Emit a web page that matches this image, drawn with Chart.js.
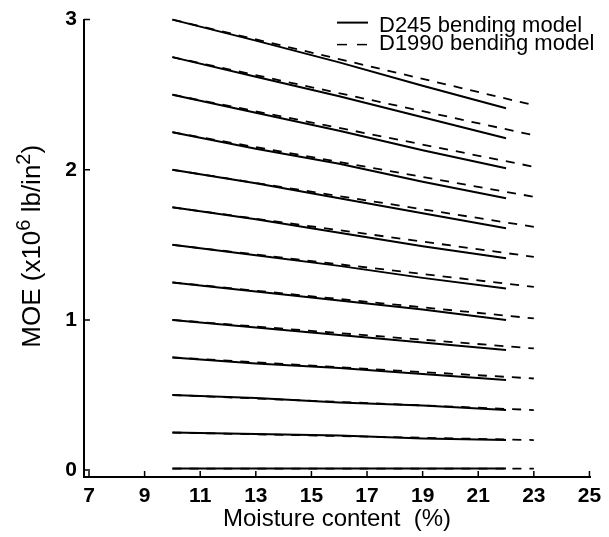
<!DOCTYPE html>
<html>
<head>
<meta charset="utf-8">
<script src="https://cdn.jsdelivr.net/npm/chart.js@4/dist/chart.umd.min.js"></script>
<style>
    html, body { margin: 0; padding: 0; background: #ffffff; }
    #wrap { width: 609px; height: 537px; }
</style>
</head>
<body>
<div id="wrap"><canvas id="graph" width="609" height="537"></canvas></div>
<script>
const FONT = '"Liberation Sans", Arial, Helvetica, sans-serif';

const moisture_ticks = [7, 9, 11, 13, 15, 17, 19, 21, 23, 25];
const moe_ticks = [0, 1, 2, 3];

// D245 bending model, read at 10, 13, 16, 19, 22 % MC
const d245_mc = [10, 13, 16, 19, 22];
const d245_moe = [
    [3.00, 2.86, 2.715, 2.56, 2.41],
    [2.75, 2.62, 2.49, 2.35, 2.21],
    [2.50, 2.38, 2.26, 2.13, 2.01],
    [2.25, 2.14, 2.04, 1.92, 1.81],
    [2.00, 1.91, 1.81, 1.71, 1.61],
    [1.75, 1.67, 1.58, 1.49, 1.41],
    [1.50, 1.43, 1.36, 1.28, 1.21],
    [1.25, 1.19, 1.13, 1.07, 1.00],
    [1.00, 0.95, 0.90, 0.85, 0.80],
    [0.75, 0.71, 0.68, 0.64, 0.60],
    [0.50, 0.48, 0.45, 0.43, 0.40],
    [0.25, 0.24, 0.23, 0.21, 0.20],
    [0.01, 0.01, 0.01, 0.01, 0.01]
];

// D1990 bending model, straight lines from 10 to 23 % MC
const d1990_mc = [10, 23];
const d1990_moe = [
    [3.00, 2.43],
    [2.75, 2.23],
    [2.50, 2.02],
    [2.25, 1.82],
    [2.00, 1.62],
    [1.75, 1.42],
    [1.50, 1.22],
    [1.25, 1.01],
    [1.00, 0.81],
    [0.75, 0.61],
    [0.50, 0.40],
    [0.25, 0.20],
    [0.01, 0.01]
];

const legend_labels = ['D245 bending model', 'D1990 bending model'];

function make_points(x_arr, y_arr) {
    let points = [];
    for (let i = 0; i < x_arr.length; ++i) {
        points.push({ x: x_arr[i], y: y_arr[i] });
    }
    return points;
}

function make_datasets() {
    let datasets = [];
    for (let row of d1990_moe) {
        datasets.push({
            data: make_points(d1990_mc, row),
            showLine: true,
            borderColor: '#000000',
            borderWidth: 1.8,
            borderDash: [9, 8],
            pointRadius: 0,
            clip: 4
        });
    }
    for (let row of d245_moe) {
        datasets.push({
            data: make_points(d245_mc, row),
            showLine: true,
            borderColor: '#000000',
            borderWidth: 2,
            pointRadius: 0,
            clip: 4
        });
    }
    return datasets;
}

// ticks point inward, like the original plot
const inward_ticks = {
    id: 'inward_ticks',
    afterDraw(chart) {
        const ctx = chart.ctx;
        const area = chart.chartArea;
        ctx.save();
        ctx.strokeStyle = '#000000';
        ctx.lineWidth = 1.5;
        ctx.beginPath();
        for (let v of moisture_ticks) {
            let px = chart.scales.x.getPixelForValue(v);
            ctx.moveTo(px, area.bottom);
            ctx.lineTo(px, area.bottom - 6);
        }
        for (let v of moe_ticks) {
            let py = chart.scales.y.getPixelForValue(v);
            ctx.moveTo(area.left, py);
            ctx.lineTo(area.left + 6, py);
        }
        ctx.stroke();
        ctx.restore();
    }
};

const y_title = {
    id: 'y_title',
    afterDraw(chart) {
        const ctx = chart.ctx;
        const size = 26;
        const parts = [['MOE (x10', false], ['6', true], [' lb/in', false], ['2', true], [')', false]];
        const normal = size + 'px ' + FONT;
        const small = Math.round(size * 0.78) + 'px ' + FONT;
        let total = 0;
        for (let p of parts) {
            ctx.font = p[1] ? small : normal;
            total += ctx.measureText(p[0]).width;
        }
        const area = chart.chartArea;
        ctx.save();
        ctx.translate(40, (area.top + area.bottom) / 2 - 2);
        ctx.rotate(-Math.PI / 2);
        ctx.fillStyle = '#000000';
        ctx.textBaseline = 'alphabetic';
        ctx.textAlign = 'left';
        let x = -total / 2;
        for (let p of parts) {
            ctx.font = p[1] ? small : normal;
            ctx.fillText(p[0], x, p[1] ? -size * 0.4 : 0);
            x += ctx.measureText(p[0]).width;
        }
        ctx.restore();
    }
};

const legend_box = {
    id: 'legend_box',
    afterDraw(chart) {
        const ctx = chart.ctx;
        const area = chart.chartArea;
        const x0 = area.right - 253;
        ctx.save();
        ctx.strokeStyle = '#000000';
        ctx.lineWidth = 2;
        ctx.beginPath();
        ctx.moveTo(x0, area.top + 3);
        ctx.lineTo(x0 + 31, area.top + 3);
        ctx.stroke();
        ctx.setLineDash([10, 10]);
        ctx.lineWidth = 1.5;
        ctx.beginPath();
        ctx.moveTo(x0, area.top + 25);
        ctx.lineTo(x0 + 31, area.top + 25);
        ctx.stroke();
        ctx.setLineDash([]);
        ctx.fillStyle = '#000000';
        ctx.font = '22px ' + FONT;
        ctx.textBaseline = 'alphabetic';
        ctx.fillText(legend_labels[0], x0 + 42, area.top + 12);
        ctx.fillText(legend_labels[1], x0 + 42, area.top + 30);
        ctx.restore();
    }
};

const config = {
    type: 'scatter',
    data: { datasets: make_datasets() },
    options: {
        responsive: false,
        animation: false,
        devicePixelRatio: 1,
        layout: { padding: { top: 17, right: 19, left: 0, bottom: 0 } },
        plugins: {
            legend: { display: false },
            tooltip: { enabled: false }
        },
        scales: {
            x: {
                type: 'linear',
                min: 6.82,
                max: 25.02,
                afterBuildTicks: (scale) => {
                    scale.ticks = moisture_ticks.map((v) => ({ value: v }));
                },
                afterFit: (scale) => {
                    scale.height = 60;
                },
                ticks: {
                    color: '#000000',
                    font: { family: FONT, size: 21, weight: 'bold' },
                    padding: 7,
                    maxRotation: 0,
                    autoSkip: false
                },
                grid: { display: true, drawOnChartArea: false, drawTicks: false },
                border: { display: true, color: '#000000', width: 2 },
                title: {
                    display: true,
                    text: 'Moisture content  (%)',
                    color: '#000000',
                    font: { family: FONT, size: 24 },
                    padding: { top: 0, bottom: 3 }
                }
            },
            y: {
                type: 'linear',
                min: -0.046,
                max: 3.0,
                afterBuildTicks: (scale) => {
                    scale.ticks = moe_ticks.map((v) => ({ value: v }));
                },
                afterFit: (scale) => {
                    scale.width = 84;
                },
                ticks: {
                    color: '#000000',
                    font: { family: FONT, size: 21, weight: 'bold' },
                    padding: 7
                },
                grid: { display: true, drawOnChartArea: false, drawTicks: false },
                border: { display: true, color: '#000000', width: 2 }
            }
        }
    },
    plugins: [inward_ticks, y_title, legend_box]
};

let chart = new Chart(document.getElementById('graph'), config);
</script>
</body>
</html>
